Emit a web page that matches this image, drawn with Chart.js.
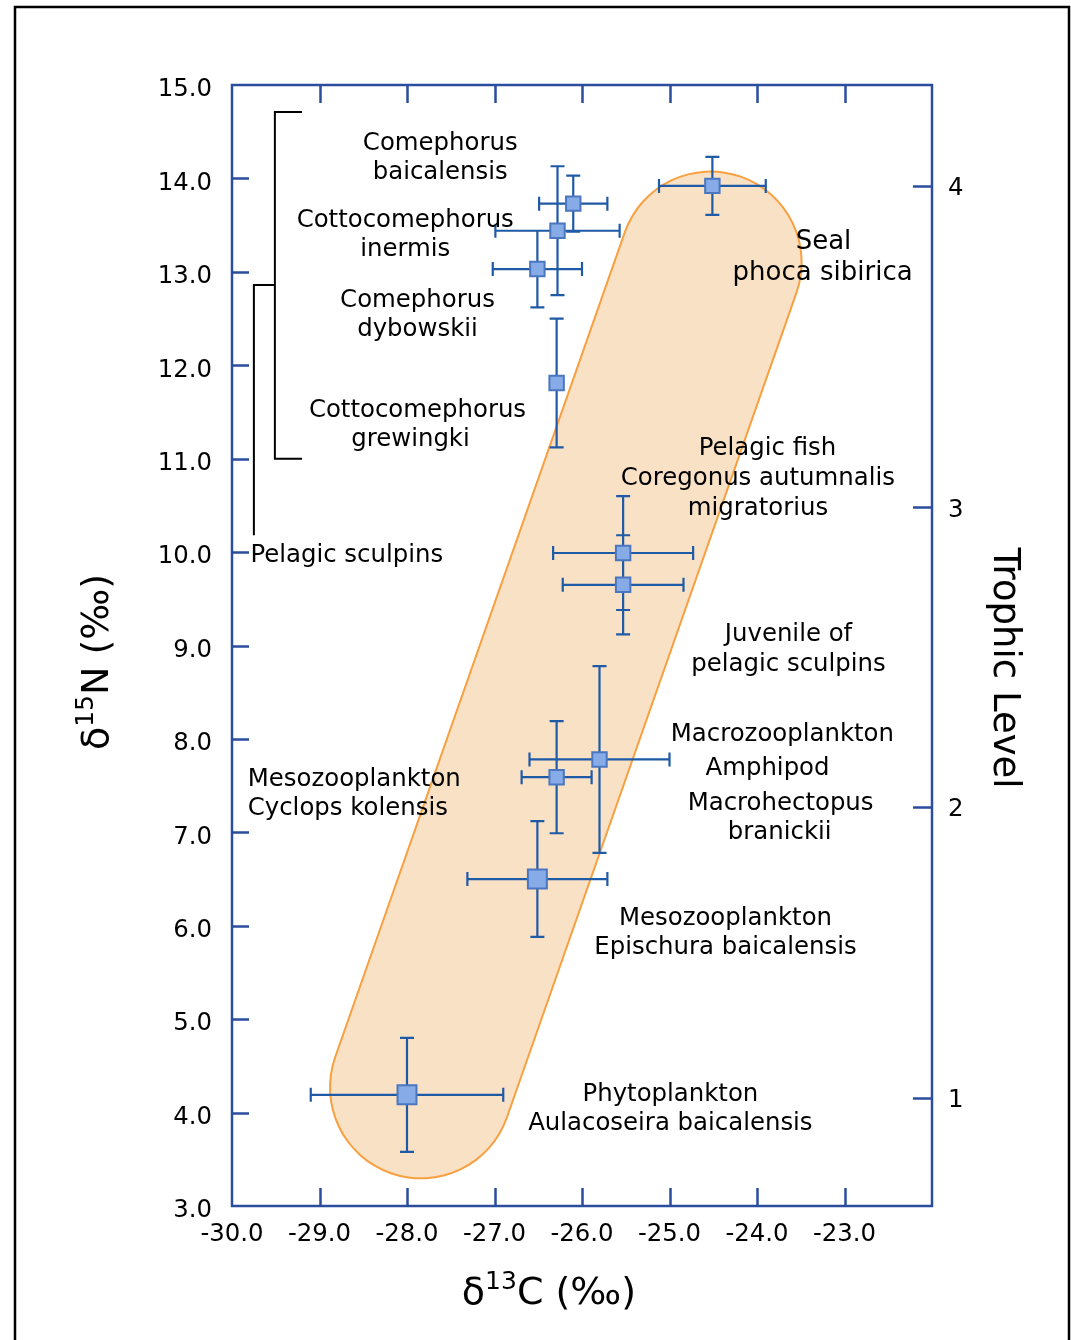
<!DOCTYPE html>
<html>
<head>
<meta charset="utf-8">
<script src="https://cdn.jsdelivr.net/npm/chart.js@4.4.0/dist/chart.umd.min.js"></script>
<style>
  html, body { margin: 0; padding: 0; background: #fff; overflow: hidden; }
  #wrap { position: relative; width: 1071px; height: 1340px; }
</style>
</head>
<body>
<div id="wrap"><canvas id="foodWeb"></canvas></div>
<script>
// Baikal pelagic food web: d13C vs d15N, mean +/- error

const groups = ['Phytoplankton', 'Epischura baicalensis', 'Cyclops kolensis', 'Macrozooplankton',
  'Pelagic fish', 'Juvenile pelagic sculpins', 'C. grewingki', 'C. dybowskii', 'C. inermis',
  'C. baicalensis', 'Seal'];
const d13C    = [-28.00, -26.51, -26.29, -25.80, -25.53, -25.53, -26.29, -26.51, -26.28, -26.10, -24.51];
const d15N    = [  4.19,   6.50,   7.59,   7.78,   9.99,   9.65,  11.81,  13.03,  13.44,  13.73,  13.92];
const d13CErr = [  1.10,   0.80,   0.40,   0.80,   0.80,   0.69,   0.00,   0.51,   0.71,   0.39,   0.61];
const d15NErr = [  0.61,   0.62,   0.60,   1.00,   0.61,   0.53,   0.69,   0.41,   0.69,   0.30,   0.31];

// trophic level scale on the right, given as d15N positions
const trophicLevels = [1, 2, 3, 4];
const trophicAtN    = [4.16, 7.27, 10.48, 13.92];

// ends of the shaded food-chain band
const bandC = [-27.84, -24.53];
const bandN = [4.27, 13.10];

const xTicks = [-30, -29, -28, -27, -26, -25, -24, -23];
const yTicks = [3, 4, 5, 6, 7, 8, 9, 10, 11, 12, 13, 14, 15];

// styles
const FONT = "'DejaVu Sans', Verdana, sans-serif";
const AXIS_BLUE = '#2a4d9e';
const ERR_BLUE = '#1f5aa6';
const markerRadius = [13.4, 13.4, 10.2, 10.2, 10.2, 10.2, 10.2, 10.2, 10.2, 10.2, 10.2];

// text labels in data coordinates
const notes = [
  { t: 'Comephorus', x: -27.62, y: 14.40 },
  { t: 'baicalensis', x: -27.62, y: 14.09 },
  { t: 'Cottocomephorus', x: -28.02, y: 13.575 },
  { t: 'inermis', x: -28.02, y: 13.265 },
  { t: 'Comephorus', x: -27.88, y: 12.72 },
  { t: 'dybowskii', x: -27.88, y: 12.41 },
  { t: 'Cottocomephorus', x: -27.88, y: 11.54 },
  { t: 'grewingki', x: -27.96, y: 11.23 },
  { t: 'Seal', x: -23.24, y: 13.35, size: 26 },
  { t: 'phoca sibirica', x: -23.25, y: 13.01, size: 26 },
  { t: 'Pelagic fish', x: -23.88, y: 11.13 },
  { t: 'Coregonus autumnalis', x: -23.99, y: 10.81 },
  { t: 'migratorius', x: -23.99, y: 10.49 },
  { t: 'Juvenile of', x: -23.64, y: 9.14 },
  { t: 'pelagic sculpins', x: -23.64, y: 8.82 },
  { t: 'Macrozooplankton', x: -23.71, y: 8.07 },
  { t: 'Amphipod', x: -23.88, y: 7.71 },
  { t: 'Macrohectopus', x: -23.73, y: 7.33 },
  { t: 'branickii', x: -23.74, y: 7.02 },
  { t: 'Mesozooplankton', x: -29.82, y: 7.59, align: 'left' },
  { t: 'Cyclops kolensis', x: -29.82, y: 7.28, align: 'left' },
  { t: 'Mesozooplankton', x: -24.36, y: 6.10 },
  { t: 'Epischura baicalensis', x: -24.36, y: 5.79 },
  { t: 'Phytoplankton', x: -24.99, y: 4.22 },
  { t: 'Aulacoseira baicalensis', x: -24.99, y: 3.91 },
  { t: 'Pelagic sculpins', x: -29.79, y: 9.99, align: 'left' }
];

// bracket polylines for the sculpin group (data coordinates)
const brackets = [
  [[-29.20, 14.71], [-29.51, 14.71], [-29.51, 11.00], [-29.20, 11.00]],
  [[-29.51, 12.86], [-29.75, 12.86], [-29.75, 10.18]]
];

// draws text made of runs (normal + superscript), centred on 0 along the baseline
function drawRuns(ctx, runs) {
  let total = 0;
  runs.forEach(r => { ctx.font = r.size + 'px ' + FONT; r.w = ctx.measureText(r.t).width; total += r.w; });
  let cx = -total / 2;
  ctx.textAlign = 'left';
  ctx.textBaseline = 'alphabetic';
  runs.forEach(r => {
    ctx.font = r.size + 'px ' + FONT;
    ctx.fillText(r.t, cx, -(r.rise || 0));
    cx += r.w;
  });
}

const decorPlugin = {
  id: 'decor',
  beforeDraw(chart) {
    const ctx = chart.ctx;
    ctx.save();
    ctx.fillStyle = '#fff';
    ctx.fillRect(0, 0, chart.width, chart.height);
    ctx.strokeStyle = '#000';
    ctx.lineWidth = 2.5;
    ctx.strokeRect(15, 7, 1054, 1400);
    ctx.restore();
  },
  beforeDatasetDraw(chart, args) {
    if (args.index !== 0) return;
    const ctx = chart.ctx, xs = chart.scales.x, ys = chart.scales.y;
    const cap = 7;
    ctx.save();
    ctx.strokeStyle = ERR_BLUE;
    ctx.lineWidth = 2.2;
    ctx.beginPath();
    for (let i = 0; i < d13C.length; i++) {
      const px = xs.getPixelForValue(d13C[i]);
      const py = ys.getPixelForValue(d15N[i]);
      if (d13CErr[i] > 0) {
        const x0 = xs.getPixelForValue(d13C[i] - d13CErr[i]);
        const x1 = xs.getPixelForValue(d13C[i] + d13CErr[i]);
        ctx.moveTo(x0, py); ctx.lineTo(x1, py);
        ctx.moveTo(x0, py - cap); ctx.lineTo(x0, py + cap);
        ctx.moveTo(x1, py - cap); ctx.lineTo(x1, py + cap);
      }
      if (d15NErr[i] > 0) {
        const y0 = ys.getPixelForValue(d15N[i] - d15NErr[i]);
        const y1 = ys.getPixelForValue(d15N[i] + d15NErr[i]);
        ctx.moveTo(px, y0); ctx.lineTo(px, y1);
        ctx.moveTo(px - cap, y0); ctx.lineTo(px + cap, y0);
        ctx.moveTo(px - cap, y1); ctx.lineTo(px + cap, y1);
      }
    }
    ctx.stroke();
    ctx.restore();
  },
  afterDraw(chart) {
    const ctx = chart.ctx, a = chart.chartArea;
    const xs = chart.scales.x, ys = chart.scales.y;
    ctx.save();

    // axis frame and inward ticks
    ctx.strokeStyle = AXIS_BLUE;
    ctx.lineWidth = 2.5;
    ctx.strokeRect(a.left, a.top, a.right - a.left, a.bottom - a.top);
    ctx.beginPath();
    xTicks.slice(1).forEach(v => {
      const px = Math.round(xs.getPixelForValue(v)) + 0.5;
      ctx.moveTo(px, a.top); ctx.lineTo(px, a.top + 18);
      ctx.moveTo(px, a.bottom); ctx.lineTo(px, a.bottom - 18);
    });
    yTicks.slice(1, -1).forEach(v => {
      const py = Math.round(ys.getPixelForValue(v)) + 0.5;
      ctx.moveTo(a.left, py); ctx.lineTo(a.left + 17, py);
    });
    trophicAtN.forEach(v => {
      const py = Math.round(ys.getPixelForValue(v)) + 0.5;
      ctx.moveTo(a.right, py); ctx.lineTo(a.right - 19, py);
    });
    ctx.stroke();

    // sculpin brackets
    ctx.strokeStyle = '#000';
    ctx.lineWidth = 2;
    ctx.beginPath();
    brackets.forEach(b => {
      b.forEach((p, j) => {
        const px = xs.getPixelForValue(p[0]), py = ys.getPixelForValue(p[1]);
        if (j === 0) ctx.moveTo(px, py); else ctx.lineTo(px, py);
      });
    });
    ctx.stroke();

    // group labels
    ctx.fillStyle = '#000';
    ctx.textBaseline = 'alphabetic';
    notes.forEach(n => {
      const size = n.size || 24.4;
      ctx.font = size + 'px ' + FONT;
      ctx.textAlign = n.align || 'center';
      ctx.fillText(n.t, xs.getPixelForValue(n.x), ys.getPixelForValue(n.y) + size * 0.365);
    });

    // axis titles
    ctx.save();
    ctx.translate(549, 1304);
    drawRuns(ctx, [{ t: 'δ', size: 38 }, { t: '13', size: 25, rise: 15 }, { t: 'C (‰)', size: 38 }]);
    ctx.restore();

    ctx.save();
    ctx.translate(108, 662);
    ctx.rotate(-Math.PI / 2);
    drawRuns(ctx, [{ t: 'δ', size: 38 }, { t: '15', size: 25, rise: 15 }, { t: 'N (‰)', size: 38 }]);
    ctx.restore();

    ctx.save();
    ctx.translate(994, 668);
    ctx.rotate(Math.PI / 2);
    drawRuns(ctx, [{ t: 'Trophic Level', size: 37 }]);
    ctx.restore();

    ctx.restore();
  }
};

Chart.defaults.font.family = FONT;
Chart.defaults.color = '#000';

const points = d13C.map((c, i) => ({ x: c, y: d15N[i] }));
const bandPts = bandC.map((c, i) => ({ x: c, y: bandN[i] }));

new Chart(document.getElementById('foodWeb'), {
  type: 'scatter',
  data: {
    datasets: [
      {
        label: 'Groups',
        data: points,
        order: 0,
        pointStyle: 'rect',
        pointRadius: markerRadius,
        pointBackgroundColor: '#86abe6',
        pointBorderColor: '#4a77c0',
        pointBorderWidth: 2
      },
      {
        type: 'line',
        label: 'band fill',
        data: bandPts,
        order: 1,
        borderColor: '#f9e1c6',
        borderWidth: 180,
        borderCapStyle: 'round',
        pointRadius: 0,
        fill: false,
        tension: 0
      },
      {
        type: 'line',
        label: 'band edge',
        data: bandPts,
        order: 2,
        borderColor: '#f8a040',
        borderWidth: 184,
        borderCapStyle: 'round',
        pointRadius: 0,
        fill: false,
        tension: 0
      }
    ]
  },
  options: {
    responsive: true,
    maintainAspectRatio: false,
    animation: false,
    events: [],
    layout: { padding: { top: 85, left: 0, right: 0, bottom: 0 } },
    plugins: { legend: { display: false }, tooltip: { enabled: false } },
    scales: {
      x: {
        type: 'linear', min: -30, max: -22,
        afterBuildTicks: s => { s.ticks = xTicks.map(v => ({ value: v })); },
        afterFit: s => { s.height = 134; },
        grid: { display: false, drawTicks: false },
        border: { display: false },
        ticks: { padding: 14, autoSkip: false, maxRotation: 0, font: { size: 24.4 }, color: '#000',
          callback: v => Number(v).toFixed(1) }
      },
      y: {
        type: 'linear', min: 3, max: 15,
        afterBuildTicks: s => { s.ticks = yTicks.map(v => ({ value: v })); },
        afterFit: s => { s.width = 232; },
        grid: { display: false, drawTicks: false },
        border: { display: false },
        ticks: { padding: 20, labelOffset: 5, autoSkip: false, font: { size: 24.4 }, color: '#000',
          callback: v => Number(v).toFixed(1) }
      },
      y2: {
        type: 'linear', position: 'right', min: 3, max: 15,
        afterBuildTicks: s => { s.ticks = trophicAtN.map(v => ({ value: v })); },
        afterFit: s => { s.width = 139; },
        grid: { display: false, drawTicks: false },
        border: { display: false },
        ticks: { padding: 16, labelOffset: 3, autoSkip: false, font: { size: 24.4 }, color: '#000',
          callback: (v, i) => String(trophicLevels[i]) }
      }
    }
  },
  plugins: [decorPlugin]
});
</script>
</body>
</html>
